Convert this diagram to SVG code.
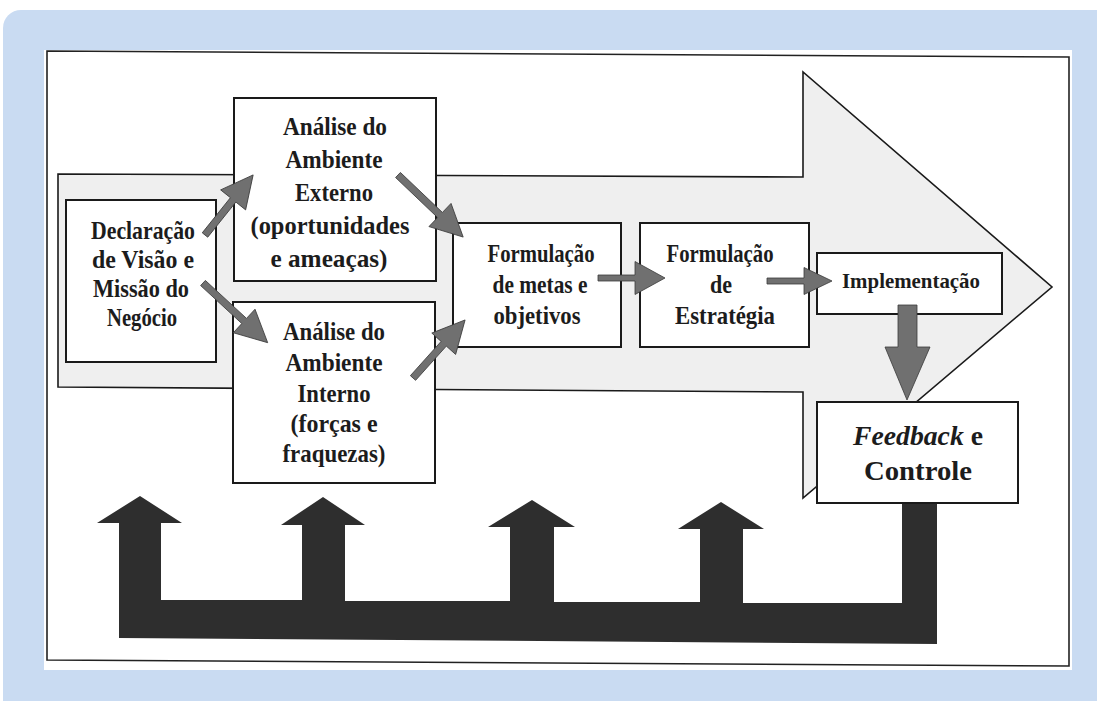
<svg xmlns="http://www.w3.org/2000/svg" width="1097" height="701" viewBox="0 0 1097 701">
<style>
.box{fill:#ffffff;stroke:#1a1a1a;stroke-width:2}
.sa{fill:#707070;stroke:#3a3a3a;stroke-width:0.8}
</style>
<rect x="3" y="10" width="1130" height="730" rx="18" fill="#c9dbf2"/>
<rect x="44" y="50" width="1028" height="620" fill="#ffffff"/>
<polygon points="47,51 1069,57 1069,666 47,660" fill="none" stroke="#222" stroke-width="1.6"/>
<g id="chevron">
<polygon points="58,174 803,177 803,72 1052,287 803,498 803,392 58,387" fill="#efefef" stroke="#1a1a1a" stroke-width="1.6"/>
</g>
<g id="feedback-loop">
<path d="M119,638 L119,523 L97,523 L140,496 L182,523 L161,523 L161,600 L302,600 L302,525 L281,525 L323,497 L365,525 L345,525 L345,601 L510,601 L510,527 L488,527 L532,500 L575,527 L554,527 L554,602 L700,602 L700,529 L678,529 L721,502 L764,529 L743,529 L743,603 L902,603 L902,503 L937,503 L937,644 Z" fill="#2e2e2e"/>
</g>
<g font-family="Liberation Serif, Times New Roman, serif" font-weight="bold" font-size="26" fill="#1c1c1c" text-anchor="middle">
<g id="declaracao">
<rect class="box" x="66" y="200" width="150" height="162"/>
<text x="143" y="239" textLength="104" lengthAdjust="spacingAndGlyphs">Declaração</text>
<text x="143" y="268" textLength="102" lengthAdjust="spacingAndGlyphs">de Visão e</text>
<text x="141" y="297" textLength="96" lengthAdjust="spacingAndGlyphs">Missão do</text>
<text x="142" y="326" textLength="70" lengthAdjust="spacingAndGlyphs">Negócio</text>
</g>
<g id="analise-externo">
<rect class="box" x="234" y="98" width="202" height="183"/>
<text x="335" y="135" textLength="104" lengthAdjust="spacingAndGlyphs">Análise do</text>
<text x="334" y="168" textLength="97" lengthAdjust="spacingAndGlyphs">Ambiente</text>
<text x="334" y="201" textLength="78" lengthAdjust="spacingAndGlyphs">Externo</text>
<text x="330" y="234" textLength="159" lengthAdjust="spacingAndGlyphs">(oportunidades</text>
<text x="329" y="267" textLength="117" lengthAdjust="spacingAndGlyphs">e ameaças)</text>
</g>
<g id="analise-interno">
<rect class="box" x="233" y="302" width="202" height="181"/>
<text x="334" y="340" textLength="102" lengthAdjust="spacingAndGlyphs">Análise do</text>
<text x="334" y="371" textLength="97" lengthAdjust="spacingAndGlyphs">Ambiente</text>
<text x="334" y="402" textLength="73" lengthAdjust="spacingAndGlyphs">Interno</text>
<text x="334" y="432" textLength="87" lengthAdjust="spacingAndGlyphs">(forças e</text>
<text x="334" y="462" textLength="103" lengthAdjust="spacingAndGlyphs">fraquezas)</text>
</g>
<g id="formulacao-metas">
<rect class="box" x="453" y="223" width="168" height="124"/>
<text x="541" y="262" textLength="107" lengthAdjust="spacingAndGlyphs">Formulação</text>
<text x="540" y="293" textLength="95" lengthAdjust="spacingAndGlyphs">de metas e</text>
<text x="537" y="324" textLength="87" lengthAdjust="spacingAndGlyphs">objetivos</text>
</g>
<g id="formulacao-estrategia">
<rect class="box" x="640" y="223" width="169" height="124"/>
<text x="720" y="262" textLength="107" lengthAdjust="spacingAndGlyphs">Formulação</text>
<text x="721" y="293" textLength="22" lengthAdjust="spacingAndGlyphs">de</text>
<text x="725" y="324" textLength="100" lengthAdjust="spacingAndGlyphs">Estratégia</text>
</g>
<g id="implementacao">
<rect class="box" x="817" y="253" width="185" height="61"/>
<text x="911" y="288" font-size="21" textLength="138" lengthAdjust="spacingAndGlyphs">Implementação</text>
</g>
<g id="feedback-controle">
<rect class="box" x="817" y="402" width="201" height="101"/>
<text x="918" y="445" font-size="27" textLength="130" lengthAdjust="spacingAndGlyphs"><tspan font-style="italic">Feedback</tspan> e</text>
<text x="918" y="480" font-size="27" textLength="108" lengthAdjust="spacingAndGlyphs">Controle</text>
</g>
</g>
<g id="connectors">
<path class="sa" transform="translate(205,235) rotate(-51.3)" d="M0,-3.5 L45,-3.5 L45,-16 L77,0 L45,16 L45,3.5 L0,3.5 Z"/>
<path class="sa" transform="translate(203,283) rotate(42.7)" d="M0,-3.5 L56,-3.5 L56,-16 L88,0 L56,16 L56,3.5 L0,3.5 Z"/>
<path class="sa" transform="translate(398,175) rotate(43.6)" d="M0,-3.5 L58,-3.5 L58,-16 L90,0 L58,16 L58,3.5 L0,3.5 Z"/>
<path class="sa" transform="translate(413,378) rotate(-48.1)" d="M0,-3.5 L46,-3.5 L46,-16 L78,0 L46,16 L46,3.5 L0,3.5 Z"/>
<path class="sa" transform="translate(598,278)" d="M0,-3 L37,-3 L37,-16.5 L67,0 L37,16.5 L37,3 L0,3 Z"/>
<path class="sa" transform="translate(767,281)" d="M0,-3 L37,-3 L37,-13.5 L65,0 L37,13.5 L37,3 L0,3 Z"/>
<polygon class="sa" fill="#606060" points="898,305 917,305 917,347 930,347 907,400 885,347 898,347"/>
</g>
</svg>
